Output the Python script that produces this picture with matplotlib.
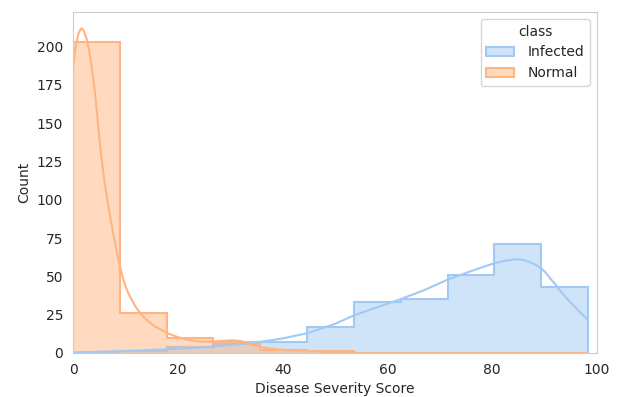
import numpy as np
import matplotlib
matplotlib.use("Agg")
import matplotlib.pyplot as plt
from matplotlib.patches import Patch
import seaborn as sns

# Гистограмма: общие границы бинов и счётчики по классам
bin_edges = [0, 8.94, 17.87, 26.81, 35.75, 44.68, 53.62, 62.56, 71.49, 80.43, 89.37, 98.3]
infected_counts = [0, 1, 4, 6, 7, 17, 33, 35, 51, 71, 43]
normal_counts = [203, 26, 10, 7, 2, 1, 0, 0, 0, 0, 0]

# KDE кривые
normal_kde_x = [0, 0.25, 0.5, 0.75, 1.0, 1.3, 1.7, 2.1, 2.6, 3.1, 3.6, 4.2, 4.7,
                5.3, 6.0, 6.6, 7.2, 8.0, 8.5, 9.0, 9.6, 10.3, 11.0, 11.9, 12.8,
                13.8, 14.8, 15.8, 16.9, 18.3, 19.8, 21.0, 22.0, 23.0, 24.2,
                25.5, 27.0, 28.5, 30.5, 32.0, 33.0, 34.4, 35.7, 37.0, 39.0,
                41.0, 43.3, 48.0, 53.5]
normal_kde_y = [186, 193, 200, 204, 208, 210.5, 212, 210, 205, 197, 186, 170, 152,
                131, 112, 99, 87, 72, 64, 56, 48, 41, 36, 30.5, 26,
                22.5, 19.5, 17, 15, 12.5, 10.6, 9.4, 8.6, 8.0, 7.4,
                7.3, 7.5, 7.9, 8.3, 7.8, 7.0, 5.5, 4.0, 3.2, 2.4,
                1.8, 1.4, 0.8, 0.4]
infected_kde_x = [0, 5, 10, 15, 20, 25, 30, 35.7, 40, 44.6, 50, 53.7, 58, 62,
                  67, 71.3, 76, 80.2, 82.5, 84.7, 86, 87, 88.2, 89.4, 90.2, 91,
                  92, 92.9, 94, 95, 96.5, 98.3]
infected_kde_y = [0.4, 0.8, 1.3, 2.0, 2.8, 3.8, 5.2, 7.2, 9.5, 12.8, 19, 24.7,
                  29.8, 34.5, 41, 47.6, 53.5, 58.4, 60.3, 61.2, 60.8, 59.5, 57.8,
                  55.2, 52.5, 49, 45, 41, 36.5, 33, 27.5, 21.5]

classes = ["Infected", "Normal"]

sns.set_style("whitegrid")
pal = sns.color_palette("pastel")
colors = {"Infected": pal[0], "Normal": pal[1]}

fig, ax = plt.subplots(figsize=(6.17, 3.97), dpi=100)
fig.subplots_adjust(left=73 / 617, right=597 / 617, bottom=44 / 397, top=385 / 397)

counts = {"Infected": infected_counts, "Normal": normal_counts}
for cls in classes:
    c = colors[cls]
    ax.stairs(counts[cls], bin_edges, fill=True, facecolor=(*c, 0.5),
              edgecolor=c, linewidth=1.5, baseline=0)

ax.plot(infected_kde_x, infected_kde_y, color=colors["Infected"], linewidth=1.5)
ax.plot(normal_kde_x, normal_kde_y, color=colors["Normal"], linewidth=1.5)

ax.set_xlim(0, 100)
ax.set_ylim(bottom=0)
ax.grid(False)
ax.set_xlabel("Disease Severity Score")
ax.set_ylabel("Count")

handles = [Patch(facecolor=(*colors[c], 0.5), edgecolor=colors[c], linewidth=1.5, label=c)
           for c in classes]
ax.legend(handles=handles, title="class", loc="upper right", handletextpad=1.0)

fig.savefig("out.png", dpi=100)
